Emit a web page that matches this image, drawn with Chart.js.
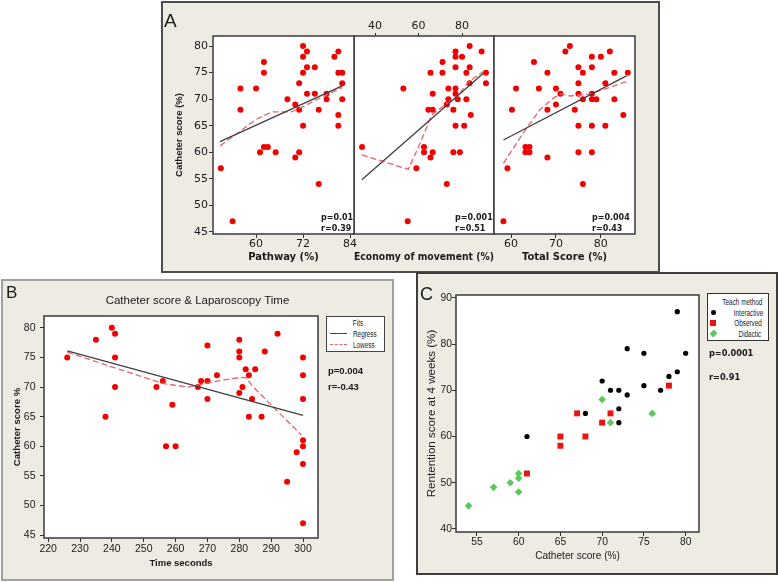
<!DOCTYPE html>
<html><head><meta charset="utf-8">
<script src="https://cdn.jsdelivr.net/npm/chart.js@4.4.1/dist/chart.umd.min.js"></script>
<style>
html,body{margin:0;padding:0;background:#fff;}
body{width:778px;height:582px;position:relative;overflow:hidden;font-family:'Liberation Sans',Arial,sans-serif;color:#1a1a1a;}
.panel{position:absolute;box-sizing:border-box;background:#eeebe3;}
canvas{position:absolute;}
.t{position:absolute;white-space:nowrap;line-height:1;transform:translateY(-50%);}
.pl{font-size:19px;}
.pa{font-family:'DejaVu Sans',sans-serif;font-weight:bold;font-size:8px;}
.pb{font-family:'Liberation Sans',sans-serif;font-weight:bold;font-size:9.5px;}
.lg{font-family:'Liberation Sans',sans-serif;font-size:8.5px;transform:translateY(-50%) scaleX(0.75);}
.box{position:absolute;box-sizing:border-box;background:#fff;}
</style></head><body>
<div class="panel" style="left:161px;top:1px;width:499px;height:272px;border:2px solid #4d4d4d;"></div>
<div class="panel" style="left:1px;top:279px;width:393px;height:302px;border:2px solid #a0a0a0;"></div>
<div class="panel" style="left:416px;top:272px;width:362px;height:303px;border:2px solid #3d3d3d;"></div>

<canvas id="cA2" width="170" height="250" style="left:340px;top:20px"></canvas>
<canvas id="cA3" width="180" height="250" style="left:480px;top:20px"></canvas>
<canvas id="cA1" width="200" height="250" style="left:160px;top:20px"></canvas>
<canvas id="cB" width="391" height="300" style="left:2px;top:280px"></canvas>
<canvas id="cC" width="360" height="301" style="left:417px;top:273px"></canvas>

<div class="t pl" style="left:164px;top:20px">A</div>
<div class="t pl" style="left:6px;top:292px;font-size:17px">B</div>
<div class="t pl" style="left:420px;top:293.5px;font-size:18px">C</div>

<div class="t pa" style="left:321px;top:218px">p=0.01</div>
<div class="t pa" style="left:321px;top:229px">r=0.39</div>
<div class="t pa" style="left:455px;top:218px">p=0.001</div>
<div class="t pa" style="left:455px;top:229px">r=0.51</div>
<div class="t pa" style="left:592px;top:218px">p=0.004</div>
<div class="t pa" style="left:592px;top:229px">r=0.43</div>

<div class="box" style="left:326px;top:316px;width:59px;height:36px;border:1px solid #444;"></div>
<div class="t lg" style="left:358px;top:323px;transform:translate(-50%,-50%) scaleX(0.75);">Fits</div>
<div style="position:absolute;left:330px;top:333px;width:17px;border-top:1.5px solid #444;"></div>
<div class="t lg" style="left:352.7px;top:334px;transform-origin:left center;">Regress</div>
<div style="position:absolute;left:330px;top:344px;width:17px;border-top:1.5px dashed #e8646a;"></div>
<div class="t lg" style="left:352.7px;top:345px;transform-origin:left center;">Lowess</div>
<div class="t pb" style="left:328px;top:371px">p=0.004</div>
<div class="t pb" style="left:328px;top:387px">r=-0.43</div>

<div class="box" style="left:707px;top:293px;width:62px;height:48px;border:1px solid #333;"></div>
<div class="t lg" style="right:16px;top:301.7px;transform-origin:right center;">Teach method</div>
<div style="position:absolute;left:711px;top:310px;width:5px;height:5px;border-radius:50%;background:#000;"></div>
<div class="t lg" style="right:15px;top:312.5px;transform-origin:right center;">Interactive</div>
<div style="position:absolute;left:710px;top:320px;width:6px;height:6px;background:#ee1111;"></div>
<div class="t lg" style="right:16px;top:323px;transform-origin:right center;">Observed</div>
<div style="position:absolute;left:710.5px;top:331px;width:5px;height:5px;background:#5cc85c;transform:rotate(45deg) scaleY(1.2);"></div>
<div class="t lg" style="right:17px;top:334px;transform-origin:right center;">Didactic</div>
<div class="t pa" style="left:709px;top:353px;font-size:8.2px">p=0.0001</div>
<div class="t pa" style="left:709px;top:377px;font-size:8.2px">r=0.91</div>

<script>
// ---------- Data ----------
const catheterTicks = [45,50,55,60,65,70,75,80];
const pathwayTicks = [60,72,84];
const economyTicks = [40,60,80];
const totalTicks = [60,70,80];
const timeTicks = [220,230,240,250,260,270,280,290,300];
const cXTicks = [55,60,65,70,75,80];
const cYTicks = [40,50,60,70,80,90];

// Panel A1: Pathway (%) vs Catheter score (%)
const pathwayX = [51,54,56,56,60,62,62,61,62,63,65,68,70,70,71,71,71,72,72,72,72,73,73,73,75,75,76,76,78,78,80,81,81,81,81,82,82,82];
const pathwayY = [57,47,72,68,72,77,75,60,61,61,60,70,69,59,73,68,60,80,78,75,65,79,76,71,76,71,68,54,71,70,78,79,75,67,65,75,73,70];
const a1RegX = [50.8,82];
const a1RegY = [62.0,72.5];
const a1LowX = [50.8,56,60,64,69,72,77,82];
const a1LowY = [61.2,64,66.2,67.6,67.6,68.6,70.5,72.2];

// Panel A2: Economy of movement (%)
const economyX = [34,53,55,59,62.5,62.5,64.5,66.5,65.5,66.5,66.5,65.5,71,71,73,73.7,73,73.7,76,77,77,77,77,77,77,76,79,78,80,81,82,82,83.5,83.5,83.5,84,89,91,91];
const economyY = [61,72,47,57,61,60,68,68,75,71,60,59,77,75,69,70,54,72,68,79,78,76,72,71,65,60,60,70,78,65,75,70,80,76,73,67,79,75,73];
const a2RegX = [33.9,89.8];
const a2RegY = [54.8,74.9];
const a2LowX = [33.9,55.3,60.5,66,73,77.6,83,89.8];
const a2LowY = [59.5,56.8,61.5,67,69.2,70.4,73.3,75.2];

// Panel A3: Total Score (%)
const totalX = [58.3,59.2,60.2,61.1,63.2,63.2,64.1,64.1,65.1,66.2,68.1,68.1,68.1,70,70,71,72.1,73.1,74.2,75,75,75,75,75,76,76,76,78,78,78,78,78,78,79,80,81,81,82,83,83,85,86];
const totalY = [47,57,68,72,61,60,61,60,77,72,75,68,59,72,69,71,79,80,68,76,73,71,65,60,75,70,54,78,76,71,70,65,60,70,78,73,65,79,75,70,67,75];
const a3RegX = [58.3,85.7];
const a3RegY = [62.3,74.4];
const a3LowX = [58.3,62.7,66.4,69.4,71,73.1,77.7,85.7];
const a3LowY = [57.9,63.6,68,70.2,71,70.6,71,73.3];

// Panel B: Time seconds vs Catheter score %
const timeX = [226,235,240,241,241,241,238,254,256,259,257,260,267,268,270,270,270,273,280,280,280,280,281,282,283,285,284,283,287,288,292,300,300,300,300,300,300,300,298,295];
const timeY = [75,78,80,79,75,70,65,70,71,67,60,60,70,71,71,77,68,72,78,76,75,69,70,73,72,73,68,65,65,76,79,75,72,68,61,60,57,47,59,54];
const bRegX = [226,300];
const bRegY = [76.1,65.2];
const bLowX = [226,240,256,264,273,280,282,284.4,289.6,294.8,299.5];
const bLowY = [75.9,73.4,70.6,70,71,71.6,71.6,70,67.2,64.4,61.9];

// Panel C: Catheter score vs Retention score, by teaching method
const interactiveX = [79,73,75,80,79,78,75,70,71,72,73,77,72,72,68,61];
const interactiveY = [87,79,78,78,74,73,71,72,70,70,69,70,66,63,65,60];
const observedX = [78,67,71,70,65,68,65,61];
const observedY = [71,65,65,63,60,60,58,52];
const didacticX = [70,76,71,60,60,59,57,60,54];
const didacticY = [68,65,63,52,51,50,49,48,45];

// ---------- Helpers ----------
const INK = '#1a1a1a', TICK = '#333', GRAYLINE = '#3f3f3f', REDPT = '#f00000', PINK = '#e8646a';
function hasFont(f){const c=document.createElement('canvas').getContext('2d');const s='abcdefghijklmnopqrstuvwxyz0123456789';c.font='20px monospace';const a=c.measureText(s).width;c.font='20px "'+f+'", monospace';return Math.abs(c.measureText(s).width-a)>0.5;}
const HAS_NARROW = hasFont('Liberation Sans Narrow');
function narrow(size, weight){return HAS_NARROW?{family:'Liberation Sans Narrow',size:size,weight:weight||'normal'}:{family:'Liberation Sans',size:+(size*0.86).toFixed(1),weight:weight||'normal'};}
function fixed(vals){return s=>{s.ticks=vals.map(v=>({value:v}));};}
function size(w,h){return s=>{if(w!=null)s.width=w;if(h!=null)s.height=h;};}
function G(tl){return {drawOnChartArea:false,drawTicks:true,tickLength:tl,color:TICK,tickColor:TICK,tickWidth:1};}
function T(font,pad){return {autoSkip:false,maxRotation:0,minRotation:0,color:INK,padding:pad,font:font};}
function pts(xs,ys){return xs.map((x,i)=>({x:x,y:ys[i]}));}
function scatterSet(xs,ys,color,r,style){return {type:'scatter',data:pts(xs,ys),backgroundColor:color,borderColor:color,borderWidth:0,pointRadius:r,pointHoverRadius:r,pointStyle:style||'circle'};}
function lineSet(xs,ys,color,dash){return {type:'line',data:pts(xs,ys),borderColor:color,borderWidth:1.3,borderDash:dash||[],pointRadius:0,pointHoverRadius:0,fill:false,tension:0};}
const boxPlugin={id:'plotbox',
  beforeDraw(c){const a=c.chartArea,x=c.ctx;x.save();x.fillStyle='#fff';x.fillRect(a.left,a.top,a.right-a.left,a.bottom-a.top);x.restore();},
  afterDatasetsDraw(c){const a=c.chartArea,x=c.ctx;x.save();x.strokeStyle='#3a3a3a';x.lineWidth=1.5;x.strokeRect(a.left,a.top,a.right-a.left,a.bottom-a.top);x.restore();}
};
const base = {responsive:false,animation:false,devicePixelRatio:1,events:[],plugins:{legend:{display:false},tooltip:{enabled:false}}};
const fontA = {family:'DejaVu Sans',size:11};
const titleA = {family:'DejaVu Sans',weight:'bold',size:10};

// ---------- A1 ----------
new Chart(document.getElementById('cA1'),{type:'scatter',
  data:{datasets:[lineSet(a1RegX,a1RegY,GRAYLINE),lineSet(a1LowX,a1LowY,PINK,[6,3]),scatterSet(pathwayX,pathwayY,REDPT,3)]},
  options:Object.assign({},base,{layout:{padding:{left:0,top:16,right:6,bottom:0}},
    scales:{
      x:{type:'linear',position:'bottom',min:49,max:85,afterBuildTicks:fixed(pathwayTicks),afterFit:size(null,36),grid:G(4),border:{display:false},ticks:T(fontA,0),
         title:{display:true,text:'Pathway (%)',color:INK,font:titleA,padding:{top:0,bottom:7}}},
      y:{type:'linear',position:'left',min:44.6,max:81.9,afterBuildTicks:fixed(catheterTicks),afterFit:size(53,null),grid:G(4),border:{display:false},ticks:T(fontA,1),
         title:{display:true,text:'Catheter score (%)',color:INK,font:{family:'Liberation Sans',weight:'bold',size:9.5},padding:{top:14,bottom:0}}}
    }}),
  plugins:[boxPlugin]});

// ---------- A2 ----------
new Chart(document.getElementById('cA2'),{type:'scatter',
  data:{datasets:[lineSet(a2RegX,a2RegY,GRAYLINE),lineSet(a2LowX,a2LowY,PINK,[6,3]),scatterSet(economyX,economyY,REDPT,3)]},
  options:Object.assign({},base,{layout:{padding:{left:14,top:0,right:16,bottom:0}},
    scales:{
      x:{type:'linear',position:'top',min:30.3,max:94.7,afterBuildTicks:fixed(economyTicks),afterFit:size(null,16),grid:G(3),border:{display:false},ticks:T(fontA,0)},
      x2:{type:'linear',position:'bottom',min:30.3,max:94.7,afterFit:size(null,36),grid:{display:false},border:{display:false},ticks:{display:false},
         title:{display:true,text:'Economy of movement (%)',color:INK,font:titleA,padding:{top:0,bottom:7}}},
      y:{type:'linear',display:false,min:44.6,max:81.9}
    }}),
  plugins:[boxPlugin]});

// ---------- A3 ----------
new Chart(document.getElementById('cA3'),{type:'scatter',
  data:{datasets:[lineSet(a3RegX,a3RegY,GRAYLINE),lineSet(a3LowX,a3LowY,PINK,[6,3]),scatterSet(totalX,totalY,REDPT,3)]},
  options:Object.assign({},base,{layout:{padding:{left:14,top:16,right:25,bottom:0}},
    scales:{
      x:{type:'linear',position:'bottom',min:56.2,max:87.6,afterBuildTicks:fixed(totalTicks),afterFit:size(null,36),grid:G(4),border:{display:false},ticks:T(fontA,0),
         title:{display:true,text:'Total Score (%)',color:INK,font:titleA,padding:{top:0,bottom:7}}},
      y:{type:'linear',display:false,min:44.6,max:81.9}
    }}),
  plugins:[boxPlugin]});

// ---------- B ----------
const fontB = {family:'Liberation Sans',size:10.5};
new Chart(document.getElementById('cB'),{type:'scatter',
  data:{datasets:[lineSet(bRegX,bRegY,GRAYLINE),lineSet(bLowX,bLowY,PINK,[6,3]),scatterSet(timeX,timeY,REDPT,3)]},
  options:Object.assign({},base,{layout:{padding:0},
    plugins:{legend:{display:false},tooltip:{enabled:false},
      title:{display:true,text:'Catheter score & Laparoscopy Time',color:INK,font:{family:'Liberation Sans',size:11.5,weight:'normal'},padding:{top:14.1,bottom:8.1}}},
    scales:{
      x:{type:'linear',position:'bottom',min:218.7,max:304.7,afterBuildTicks:fixed(timeTicks),afterFit:size(null,42),grid:G(4),border:{display:false},ticks:T(fontB,1),
         title:{display:true,text:'Time seconds',color:INK,font:narrow(11,'bold'),padding:{top:0,bottom:10.5}}},
      y:{type:'linear',position:'left',min:44.5,max:82,afterBuildTicks:fixed(catheterTicks),afterFit:size(42,null),grid:G(4),border:{display:false},ticks:T(fontB,4.5),
         title:{display:true,text:'Catheter score %',color:INK,font:{family:'Liberation Sans',weight:'bold',size:9.6},padding:{top:9.2,bottom:0}}},
      y2:{type:'linear',position:'right',min:0,max:1,afterFit:size(75,null),grid:{display:false},border:{display:false},ticks:{display:false}}
    }}),
  plugins:[boxPlugin]});

// ---------- C ----------
const fontC = narrow(12);
new Chart(document.getElementById('cC'),{type:'scatter',
  data:{datasets:[
    scatterSet(interactiveX,interactiveY,'#000000',2.6,'circle'),
    scatterSet(observedX,observedY,'#ee1111',4.2,'rect'),
    scatterSet(didacticX,didacticY,'#5cc85c',3.8,'rectRot')]},
  options:Object.assign({},base,{layout:{padding:{left:0,top:22,right:78,bottom:0}},
    scales:{
      x:{type:'linear',position:'bottom',min:52.5,max:81.6,afterBuildTicks:fixed(cXTicks),afterFit:size(null,42),grid:G(4),border:{display:false},ticks:T(fontC,0),
         title:{display:true,text:'Catheter score (%)',color:INK,font:narrow(11.8),padding:{top:0,bottom:12}}},
      y:{type:'linear',position:'left',min:39.35,max:90.6,afterBuildTicks:fixed(cYTicks),afterFit:size(39,null),grid:G(4),border:{display:false},ticks:T(fontC,0),
         title:{display:true,text:'Rentention score at 4 weeks (%)',color:INK,font:{family:'Liberation Sans',size:11.6},padding:{top:8,bottom:0}}}
    }}),
  plugins:[boxPlugin]});
</script>
</body></html>
